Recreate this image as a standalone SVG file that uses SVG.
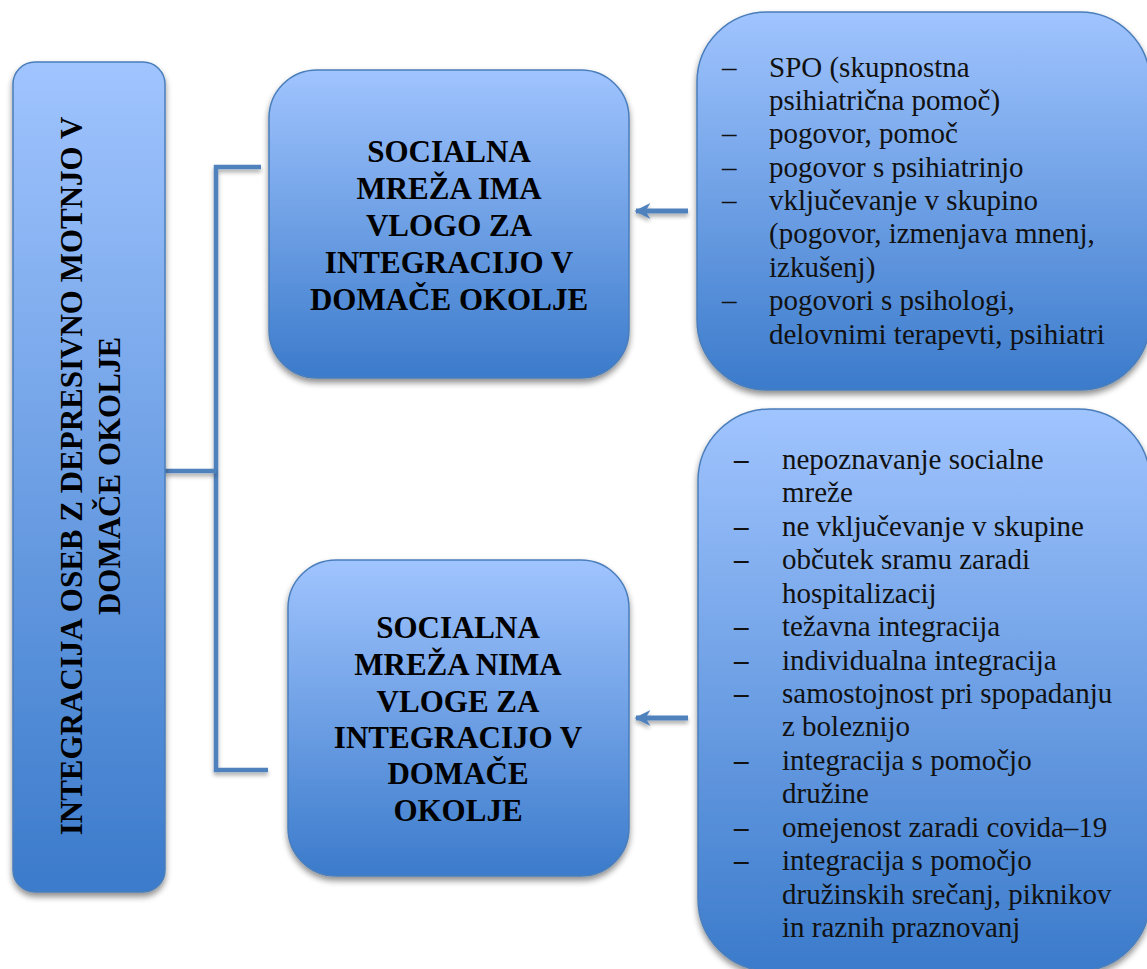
<svg xmlns="http://www.w3.org/2000/svg" width="1147" height="969" viewBox="0 0 1147 969">
  <style>
    .box { fill: url(#boxFill); stroke: #4a7ebb; stroke-width: 1.5; filter: url(#shadow); }
    .title { font-family: "Liberation Serif", "DejaVu Serif", serif; font-weight: bold; font-size: 31px; fill: #000; text-anchor: middle; }
    .item { font-family: "Liberation Serif", "DejaVu Serif", serif; font-size: 29px; fill: #111; }
    .dash { font-family: "Liberation Serif", "DejaVu Serif", serif; font-size: 29px; fill: #111; }
    .dashb { font-family: "Liberation Serif", "DejaVu Serif", serif; font-size: 29px; font-weight: bold; fill: #111; }
    .link { fill: none; stroke: #4f81bd; stroke-width: 4.5; filter: url(#lineShadow); }
    .arrow { fill: none; stroke: #4f81bd; stroke-width: 5; marker-end: url(#head); filter: url(#lineShadow); }
  </style>
  <defs>
    <linearGradient id="boxFill" x1="0" y1="0" x2="0" y2="1">
      <stop offset="0" stop-color="#a0c4fe"/>
      <stop offset="1" stop-color="#3b7bcb"/>
    </linearGradient>
    <filter id="shadow" x="-10%" y="-10%" width="125%" height="125%">
      <feGaussianBlur in="SourceAlpha" stdDeviation="3"/>
      <feOffset dx="0" dy="4" result="b"/>
      <feComponentTransfer><feFuncA type="linear" slope="0.45"/></feComponentTransfer>
      <feMerge><feMergeNode/><feMergeNode in="SourceGraphic"/></feMerge>
    </filter>
    <filter id="lineShadow" filterUnits="userSpaceOnUse" x="0" y="0" width="1147" height="969">
      <feGaussianBlur in="SourceAlpha" stdDeviation="2"/>
      <feOffset dx="0" dy="3" result="b"/>
      <feComponentTransfer><feFuncA type="linear" slope="0.35"/></feComponentTransfer>
      <feMerge><feMergeNode/><feMergeNode in="SourceGraphic"/></feMerge>
    </filter>
    <marker id="head" viewBox="0 0 10 10" refX="9" refY="5" markerWidth="3.4" markerHeight="3.2" orient="auto" markerUnits="strokeWidth">
      <path d="M0,0 L10,5 L0,10 L3,5 Z" fill="#4f81bd"/>
    </marker>
  </defs>

  <!-- tree connectors and arrows -->
  <g id="connectors">
    <path class="link" d="M261,167 H216 V770 H268"/>
    <path class="link" d="M165,471 H216"/>
    <path class="arrow" d="M688,211 H636"/>
    <path class="arrow" d="M688,718 H636"/>
  </g>

  <!-- root: vertical title -->
  <g id="root">
    <rect class="box" x="13" y="62" width="152" height="830" rx="22" ry="22"/>
    <g transform="translate(82,476) rotate(-90)">
      <text class="title" x="0" y="0">INTEGRACIJA OSEB Z DEPRESIVNO MOTNJO V</text>
      <text class="title" x="0" y="38">DOMAČE OKOLJE</text>
    </g>
  </g>

  <!-- branch: network has a role -->
  <g id="role-yes">
    <rect class="box" x="269" y="70" width="360" height="308" rx="48" ry="48"/>
    <text class="title" x="449" y="162">SOCIALNA</text>
    <text class="title" x="449" y="199">MREŽA IMA</text>
    <text class="title" x="449" y="236">VLOGO ZA</text>
    <text class="title" x="449" y="273">INTEGRACIJO V</text>
    <text class="title" x="449" y="310">DOMAČE OKOLJE</text>
  </g>

  <!-- branch: network has no role -->
  <g id="role-no">
    <rect class="box" x="288" y="560" width="341" height="316" rx="48" ry="48"/>
    <text class="title" x="458" y="638">SOCIALNA</text>
    <text class="title" x="458" y="675">MREŽA NIMA</text>
    <text class="title" x="458" y="712">VLOGE ZA</text>
    <text class="title" x="458" y="748">INTEGRACIJO V</text>
    <text class="title" x="458" y="784">DOMAČE</text>
    <text class="title" x="458" y="821">OKOLJE</text>
  </g>

  <!-- list of support forms -->
  <g id="list-yes">
    <rect class="box" x="697" y="12" width="453" height="378" rx="70" ry="70"/>
    <text class="dash" x="722" y="77">–</text>
    <text class="item" x="769" y="77">SPO (skupnostna</text>
    <text class="item" x="769" y="110">psihiatrična pomoč)</text>
    <text class="dash" x="722" y="143">–</text>
    <text class="item" x="769" y="143">pogovor, pomoč</text>
    <text class="dash" x="722" y="177">–</text>
    <text class="item" x="769" y="177">pogovor s psihiatrinjo</text>
    <text class="dash" x="722" y="210">–</text>
    <text class="item" x="769" y="210">vključevanje v skupino</text>
    <text class="item" x="769" y="243">(pogovor, izmenjava mnenj,</text>
    <text class="item" x="769" y="277">izkušenj)</text>
    <text class="dash" x="722" y="310">–</text>
    <text class="item" x="769" y="310">pogovori s psihologi,</text>
    <text class="item" x="769" y="344">delovnimi terapevti, psihiatri</text>
  </g>

  <!-- list of obstacles -->
  <g id="list-no">
    <rect class="box" x="698" y="409" width="452" height="562" rx="72" ry="72"/>
    <text class="dashb" x="734" y="469">–</text>
    <text class="item" x="782" y="469">nepoznavanje socialne</text>
    <text class="item" x="782" y="502">mreže</text>
    <text class="dashb" x="734" y="536">–</text>
    <text class="item" x="782" y="536">ne vključevanje v skupine</text>
    <text class="dashb" x="734" y="569">–</text>
    <text class="item" x="782" y="569">občutek sramu zaradi</text>
    <text class="item" x="782" y="603">hospitalizacij</text>
    <text class="dashb" x="734" y="636">–</text>
    <text class="item" x="782" y="636">težavna integracija</text>
    <text class="dashb" x="734" y="670">–</text>
    <text class="item" x="782" y="670">individualna integracija</text>
    <text class="dashb" x="734" y="703">–</text>
    <text class="item" x="782" y="703">samostojnost pri spopadanju</text>
    <text class="item" x="782" y="736">z boleznijo</text>
    <text class="dashb" x="734" y="770">–</text>
    <text class="item" x="782" y="770">integracija s pomočjo</text>
    <text class="item" x="782" y="803">družine</text>
    <text class="dashb" x="734" y="837">–</text>
    <text class="item" x="782" y="837">omejenost zaradi covida–19</text>
    <text class="dashb" x="734" y="870">–</text>
    <text class="item" x="782" y="870">integracija s pomočjo</text>
    <text class="item" x="782" y="904">družinskih srečanj, piknikov</text>
    <text class="item" x="782" y="937">in raznih praznovanj</text>
  </g>
</svg>
